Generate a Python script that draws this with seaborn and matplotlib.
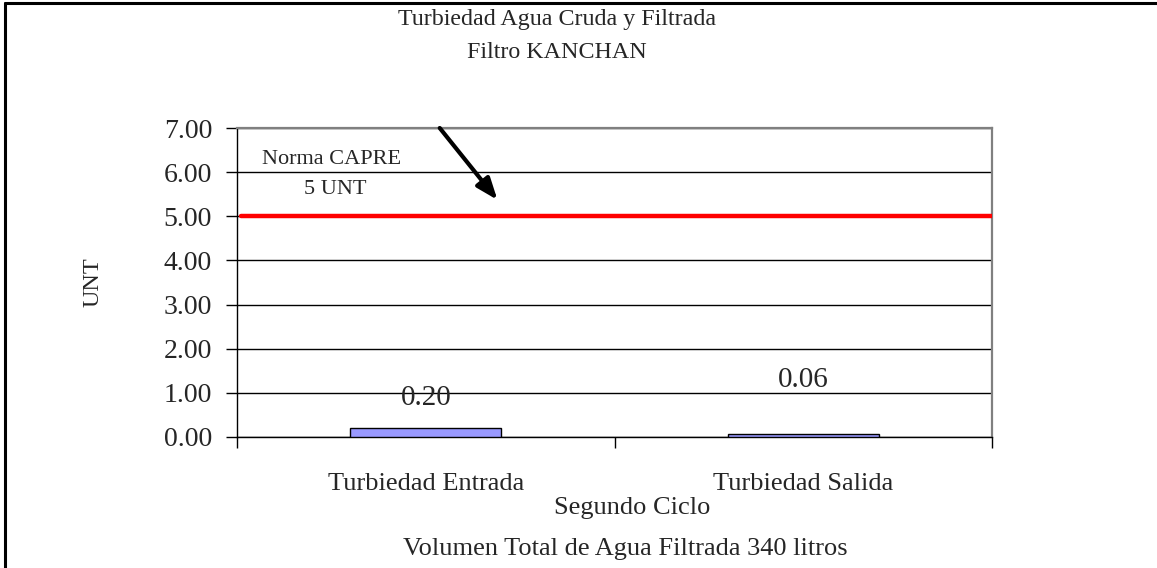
import matplotlib
matplotlib.use("Agg")
import matplotlib.pyplot as plt
from matplotlib.lines import Line2D
import seaborn as sns
import pandas as pd

# Data
categories = ["Turbiedad Entrada", "Turbiedad Salida"]
turbidity = [0.20, 0.06]
norm_value = 5.0
y_ticks = [0, 1, 2, 3, 4, 5, 6, 7]

df = pd.DataFrame({"categoria": categories, "UNT": turbidity})

sns.set_style("white")
plt.rcParams["font.family"] = ["Liberation Serif", "DejaVu Serif"]

W, H = 1157, 568
fig = plt.figure(figsize=(W / 100, H / 100), dpi=100)
ax = fig.add_axes([237 / W, 1 - 437 / H, (992 - 237) / W, (437 - 128) / H])

sns.barplot(data=df, x="categoria", y="UNT", ax=ax, color="#9999FF",
            saturation=1, width=0.40, edgecolor="black", linewidth=1.0, zorder=3)

ax.set_xlim(-0.5, 1.5)
ax.set_ylim(0, 7)
ax.set_yticks(y_ticks)
ax.set_yticklabels([f"{v:.2f}" for v in y_ticks], fontsize=20)
ax.yaxis.grid(True, color="black", linewidth=1.0, zorder=0)
ax.set_axisbelow(True)

# category boundaries as ticks, labels centred between them
ax.set_xticks([-0.5, 0.5, 1.5])
ax.set_xticklabels([])
ax.set_xticks(range(len(categories)), minor=True)
ax.set_xticklabels(categories, minor=True, fontsize=19)
ax.tick_params(axis="x", which="major", direction="out", length=8, width=1, color="black", bottom=True)
ax.tick_params(axis="x", which="minor", length=0, pad=26)
ax.tick_params(axis="y", direction="out", length=8, width=1, color="black", left=True, pad=10)
ax.set_xlabel("")
ax.set_ylabel("UNT", fontsize=17.5, labelpad=43)

for side in ["left", "bottom"]:
    ax.spines[side].set_color("black")
    ax.spines[side].set_linewidth(1.0)
for side in ["top", "right"]:
    ax.spines[side].set_color("#808080")
    ax.spines[side].set_linewidth(1.6)

# standard line
ax.axhline(norm_value, xmin=0.005, xmax=1, color="#FF0000", linewidth=3.2, zorder=4)
ax.text(-0.25, 6.28, "Norma CAPRE", fontsize=16, ha="center", va="center")
ax.text(-0.24, 5.6, f"{norm_value:.0f} UNT", fontsize=16, ha="center", va="center")
ax.annotate("", xy=(0.19, 5.37), xytext=(0.037, 7.0),
            arrowprops=dict(arrowstyle="-|>,head_length=1.3,head_width=0.5",
                            color="black", linewidth=3.0, shrinkA=0, shrinkB=0),
            annotation_clip=False, zorder=5)

# value labels
offsets = [22, 39]
for i, (v, off) in enumerate(zip(turbidity, offsets)):
    ax.annotate(f"{v:.2f}", xy=(i, v), xytext=(0, off), textcoords="offset points",
                ha="center", va="center", fontsize=21)

# titles and axis captions
fig.text(557 / W, 1 - 19 / H, "Turbiedad Agua Cruda y Filtrada", ha="center", va="center", fontsize=17.3)
fig.text(557 / W, 1 - 52 / H, "Filtro KANCHAN", ha="center", va="center", fontsize=17.3)
fig.text(632 / W, 1 - 508 / H, "Segundo Ciclo", ha="center", va="center", fontsize=19)
fig.text(625 / W, 1 - 549 / H, "Volumen Total de Agua Filtrada 340 litros", ha="center", va="center", fontsize=19)

# outer frame (left and top edges)
fig.add_artist(Line2D([5 / W, 5 / W], [0, 1 - 3 / H], transform=fig.transFigure, color="black", linewidth=2.2))
fig.add_artist(Line2D([5 / W, 1], [1 - 3 / H, 1 - 3 / H], transform=fig.transFigure, color="black", linewidth=2.2))

fig.savefig("out.png", dpi=100, facecolor="white")
